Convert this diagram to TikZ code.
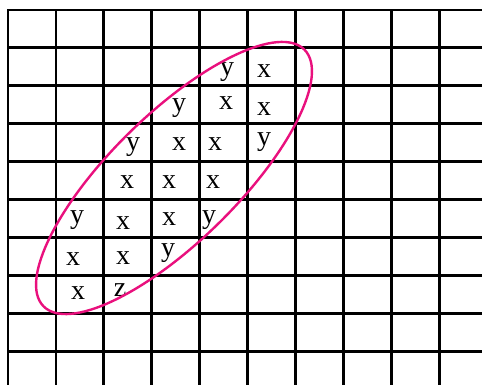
\documentclass[tikz,border=0pt]{standalone}
\usepackage{fontspec}
\setmainfont{Liberation Serif}
\begin{document}
\begin{tikzpicture}[x=1pt,y=-1pt,
  gridline/.style={line width=2.8pt,black,line cap=rect},
  lab/.style={font=\fontsize{28}{30}\selectfont,inner sep=0pt,anchor=base},
  loop/.style={line width=2.4pt,draw=ringmag}]
\definecolor{ringmag}{RGB}{233,16,125}
\useasboundingbox (0,0) rectangle (482,385);
\clip (0,0) rectangle (482,385);
\foreach \i in {0,...,9} \draw[gridline] (8+47.9*\i,10) -- (8+47.9*\i,400);
\foreach \j in {0,...,9} \draw[gridline] (8,10+37.9*\j) -- (500,10+37.9*\j);
% row 1
\node[lab] (a1) at (227,76) {y};
\node[lab] (a2) at (264,78) {x};
% row 2
\node[lab] (b1) at (179,112) {y};
\node[lab] (b2) at (226,110) {x};
\node[lab] (b3) at (264,116) {x};
% row 3
\node[lab] (c1) at (133,150) {y};
\node[lab] (c2) at (179,150) {x};
\node[lab] (c3) at (215,151) {x};
\node[lab] (c4) at (264,146) {y};
% row 4
\node[lab] (d1) at (127,188) {x};
\node[lab] (d2) at (169,188) {x};
\node[lab] (d3) at (213,188) {x};
% row 5
\node[lab] (e1) at (77,223) {y};
\node[lab] (e2) at (123,229) {x};
\node[lab] (e3) at (169,225) {x};
\node[lab] (e4) at (209,223) {y};
% row 6
\node[lab] (f1) at (73,265) {x};
\node[lab] (f2) at (123,264) {x};
\node[lab] (f3) at (168,256) {y};
% row 7
\node[lab] (g1) at (78,299) {x};
\node[lab] (g2) at (120,296) {z};
% ellipse
\draw[loop,rotate around={44.5:(174,178)}] (174,178) ellipse [x radius=183pt, y radius=63.6pt];
\end{tikzpicture}
\end{document}
